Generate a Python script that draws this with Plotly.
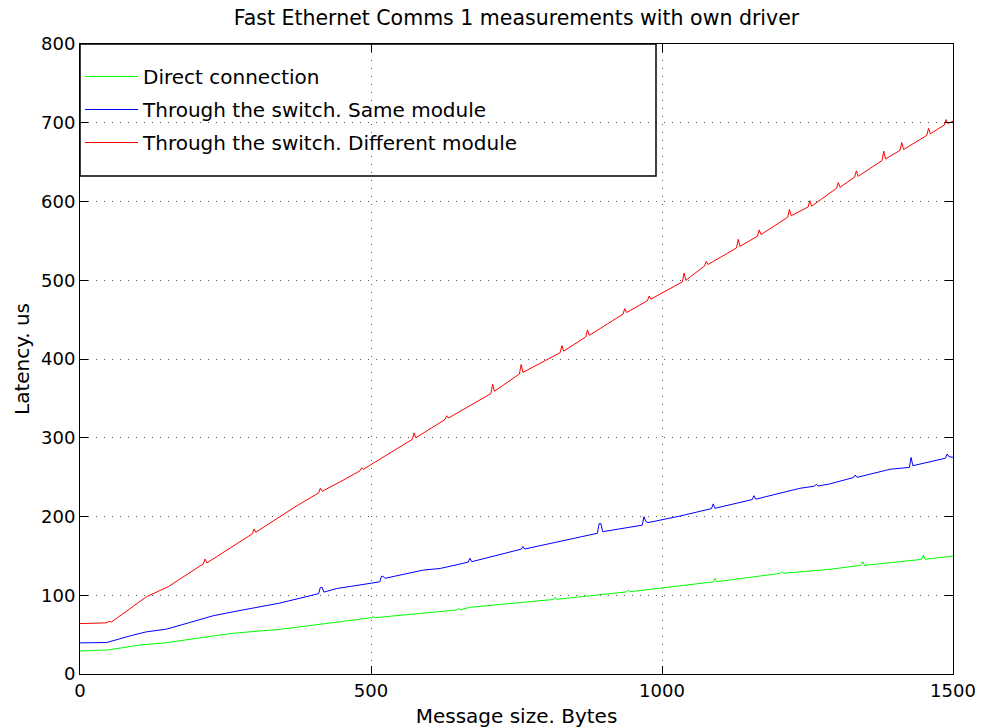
import plotly.graph_objects as go

# ---- data (x = message size in bytes, y = latency in us) ----
direct_x = [0, 48, 103, 149, 229, 263, 315, 344, 501, 504, 507, 618, 647, 650, 653, 670, 773,
            813, 816, 819, 939, 942, 945, 1031, 1088, 1091, 1094, 1203, 1206, 1209, 1288,
            1342, 1345, 1348, 1446, 1449, 1452, 1500]
direct_y = [29.2, 30.5, 36.8, 39.8, 48.3, 51.7, 55.0, 56.7, 71.5, 73.0, 71.5, 79.1, 81.3, 83.4, 81.5, 84.7, 91.8,
            94.6, 97.5, 94.8, 104.3, 106.7, 104.5, 111.7, 117.0, 121.5, 117.2, 127.8, 130.0, 127.9, 132.9,
            138.0, 142.6, 138.0, 145.5, 151.0, 145.6, 149.8]

same_x = [0, 46, 89, 114, 149, 229, 263, 309, 343, 410, 413, 416, 419, 441, 498, 515, 518, 521, 524,
          590, 619, 667, 670, 673, 758, 761, 764, 889, 892, 895, 898, 966, 969, 972, 976, 1031,
          1085, 1088, 1091, 1155, 1158, 1161, 1237, 1262, 1265, 1268, 1288, 1329, 1332, 1335,
          1392, 1425, 1428, 1431, 1487, 1490, 1493, 1500]
same_y = [39.5, 40.0, 49.0, 53.5, 57.0, 74.0, 79.0, 85.0, 90.0, 102.0, 110.0, 110.0, 104.0, 108.5, 115.0, 117.0, 124.0, 124.0, 121.5,
          132.0, 134.0, 142.0, 147.0, 142.6, 158.5, 162.0, 158.7, 178.7, 191.0, 191.0, 180.7, 189.0, 199.7, 194.0, 192.2, 200.6,
          210.0, 216.0, 210.4, 221.5, 226.4, 222.0, 235.8, 238.5, 241.0, 238.7, 241.3, 249.5, 252.7, 249.7,
          260.0, 262.4, 275.0, 264.5, 274.0, 279.4, 276.0, 275.2]

diff_x = [0, 46, 50, 54, 114, 152, 212, 215, 218, 296, 299, 302, 369, 410, 413, 416, 447, 481, 484, 487,
          571, 574, 577, 627, 630, 633, 706, 709, 712, 755, 758, 761, 825, 828, 831, 869, 872, 875,
          933, 936, 939, 975, 978, 981, 1035, 1038, 1041, 1073, 1076, 1079, 1128, 1131, 1134,
          1164, 1167, 1170, 1216, 1219, 1222, 1251, 1254, 1257, 1300, 1303, 1306, 1331, 1334, 1337,
          1378, 1381, 1384, 1409, 1412, 1415, 1455, 1458, 1461, 1485, 1488, 1491, 1500]
diff_y = [64.0, 65.0, 67.0, 66.0, 98.0, 111.0, 140.0, 146.0, 141.0, 178.0, 184.0, 180.0, 212.0, 230.0, 236.0, 232.0, 244.0, 258.0, 262.0, 260.0,
          298.0, 306.0, 300.0, 323.0, 328.0, 325.0, 356.0, 368.0, 359.0, 381.0, 393.0, 383.0, 408.0, 417.0, 410.0, 428.0, 437.0, 430.0,
          457.0, 464.0, 459.0, 474.0, 480.0, 476.0, 498.0, 509.0, 500.0, 518.0, 524.0, 520.0, 541.0, 552.0, 543.0,
          556.0, 564.0, 558.0, 580.0, 590.0, 582.0, 593.0, 601.0, 594.0, 617.0, 624.0, 618.0, 631.0, 639.0, 632.0,
          652.0, 664.0, 654.0, 665.0, 675.0, 666.0, 684.0, 693.0, 686.0, 697.0, 704.0, 699.0, 702.0]

series_names = ["Direct connection", "Through the switch. Same module", "Through the switch. Different module"]
series_colors = ["#00ff00", "#0000ff", "#ff0000"]

x_ticks = [0, 500, 1000, 1500]
y_ticks = [0, 100, 200, 300, 400, 500, 600, 700, 800]

FONT = "DejaVu Sans"

fig = go.Figure()
for i, (xs, ys) in enumerate([(direct_x, direct_y), (same_x, same_y), (diff_x, diff_y)]):
    fig.add_trace(go.Scatter(x=xs, y=ys, mode="lines", name=series_names[i],
                             legendgroup=f"g{i}",
                             line=dict(color=series_colors[i], width=1)))

axis_common = dict(showline=True, linecolor="black", linewidth=1, mirror="ticks",
                   ticks="inside", ticklen=8, tickcolor="black", tickwidth=1,
                   showgrid=True, gridcolor="#555555", gridwidth=1, griddash="1px,7px",
                   zeroline=False, automargin=False,
                   tickfont=dict(family=FONT, size=18, color="black"))

fig.update_xaxes(range=[0, 1500], tickvals=x_ticks, ticktext=[str(v) for v in x_ticks],
                 title=dict(text="Message size. Bytes", font=dict(family=FONT, size=20, color="black"), standoff=9),
                 **axis_common)
fig.update_yaxes(range=[0, 800], tickvals=y_ticks, ticktext=[str(v) for v in y_ticks],
                 title=dict(text="Latency. us", font=dict(family=FONT, size=20, color="black"), standoff=6),
                 **axis_common)

fig.add_shape(type="rect", xref="paper", yref="paper", x0=0, x1=(656 - 80) / 873,
              y0=(674 - 176) / 630, y1=1, line=dict(color="black", width=1.5),
              fillcolor="rgba(0,0,0,0)", layer="above")

H = 728
fig.update_layout(
    width=982, height=H,
    margin=dict(l=80, r=29, t=44, b=H - 674),
    paper_bgcolor="white", plot_bgcolor="white",
    title=dict(text="Fast Ethernet Comms 1 measurements with own driver",
               x=(80 + 953) / 2 / 982, xanchor="center", xref="container",
               y=1 - 18 / H, yanchor="middle", yref="container",
               font=dict(family=FONT, size=20.5, color="black")),
    legend=dict(x=0, y=1 - 13 / 630, xanchor="left", yanchor="top",
                bgcolor="rgba(0,0,0,0)", borderwidth=0, itemwidth=53,
                tracegroupgap=4,
                font=dict(family=FONT, size=20, color="black")),
    showlegend=True,
)

fig.write_html("out.html")
